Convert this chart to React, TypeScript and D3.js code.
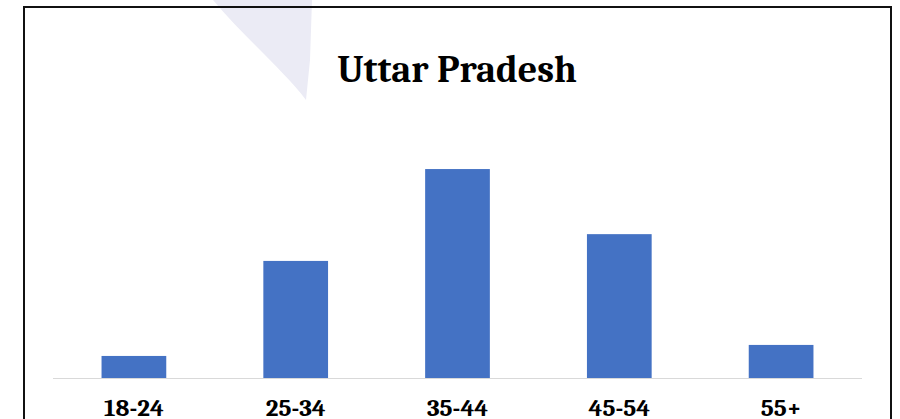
import React, { useEffect, useRef } from "react";
import * as d3 from "d3";

const WIDTH = 900;
const HEIGHT = 419;

const ageGroups = ["18-24", "25-34", "35-44", "45-54", "55+"];
// share of respondents, %
const shares = [4.2, 22.3, 39.8, 27.4, 6.3];
const chartTitle = "Uttar Pradesh";

const BAR_COLOR = "#4472C4";
const FONT = "Cambria, 'Liberation Serif', 'DejaVu Serif', serif";

export default function App() {
  const svgRef = useRef<SVGSVGElement>(null);

  useEffect(() => {
    const svg = d3.select(svgRef.current);
    svg.selectAll("*").remove();

    // faint watermark wedge behind the chart
    svg
      .append("path")
      .attr("d", "M213,0 L312,0 L310,60 L306,100 C285,72 245,38 213,0 Z")
      .attr("fill", "#ebebf5");

    // outer frame (bottom edge is off the picture)
    svg
      .append("path")
      .attr("d", "M24,430 L24,7 L891,7 L891,430")
      .attr("fill", "none")
      .attr("stroke", "#111")
      .attr("stroke-width", 2);

    const X = d3
      .scaleBand<string>()
      .domain(ageGroups)
      .range([53, 862])
      .paddingInner(0.6)
      .paddingOuter(0.3);

    const Y = d3.scaleLinear().domain([0, 40]).range([378, 168]);

    svg
      .append("text")
      .attr("x", 457)
      .attr("y", 82)
      .attr("text-anchor", "middle")
      .attr("font-family", FONT)
      .attr("font-weight", "bold")
      .attr("font-size", 38)
      .text(chartTitle);

    svg
      .selectAll("rect.bar")
      .data(shares)
      .enter()
      .append("rect")
      .attr("class", "bar")
      .attr("x", (d, i) => X(ageGroups[i]))
      .attr("y", (d) => Y(d))
      .attr("width", X.bandwidth())
      .attr("height", (d) => Y(0) - Y(d))
      .attr("fill", BAR_COLOR);

    // baseline
    svg
      .append("line")
      .attr("x1", 53)
      .attr("x2", 862)
      .attr("y1", Y(0) + 0.5)
      .attr("y2", Y(0) + 0.5)
      .attr("stroke", "#d9d9d9")
      .attr("stroke-width", 1);

    svg
      .selectAll("text.cat")
      .data(ageGroups)
      .enter()
      .append("text")
      .attr("class", "cat")
      .attr("x", (d) => X(d) + X.bandwidth() / 2)
      .attr("y", 416)
      .attr("text-anchor", "middle")
      .attr("font-family", FONT)
      .attr("font-weight", "bold")
      .attr("font-size", 25)
      .text((d) => d);
  }, []);

  return (
    <svg
      ref={svgRef}
      width={WIDTH}
      height={HEIGHT}
      style={{ position: "absolute", left: 0, top: 0, background: "#fff" }}
    />
  );
}
